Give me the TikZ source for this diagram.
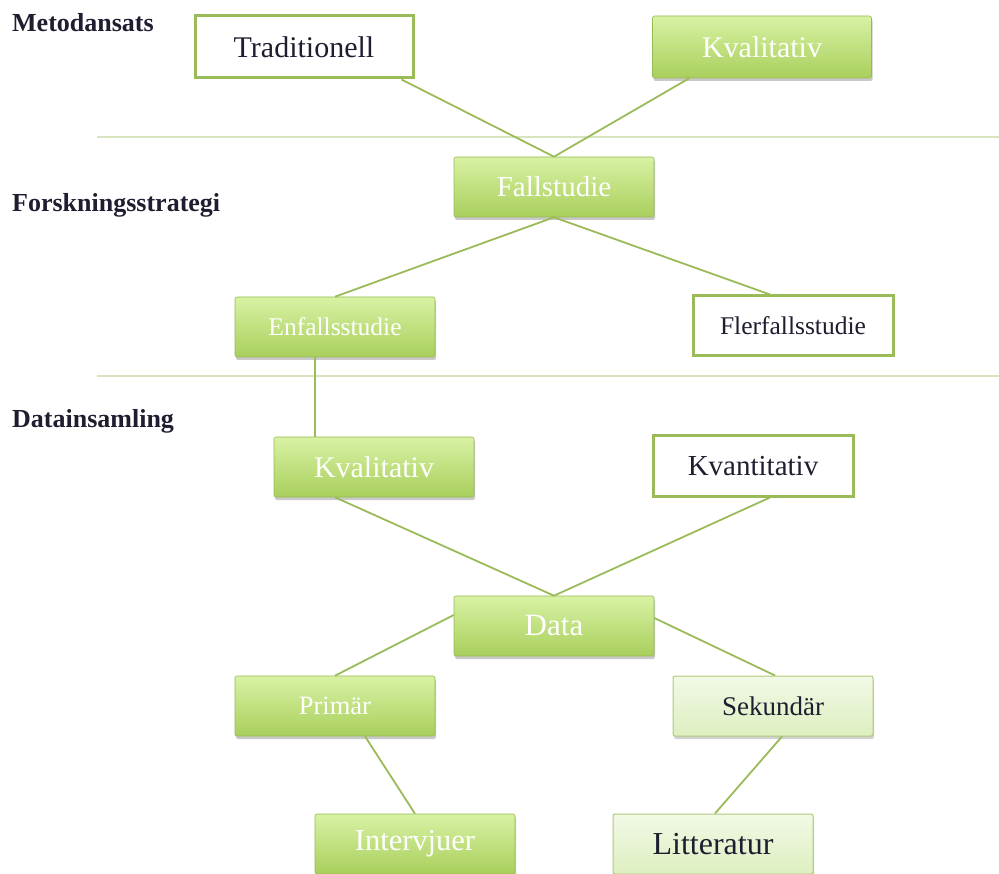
\documentclass[tikz,border=0pt]{standalone}
\usepackage{fontspec}
\setmainfont{Liberation Serif}
\usetikzlibrary{shadows}

\definecolor{olive}{HTML}{9BBB59}
\definecolor{rulegreen}{HTML}{D7E4BD}
\definecolor{greentop}{HTML}{D8F2A4}
\definecolor{greenbot}{HTML}{A9CF5C}
\definecolor{palentop}{HTML}{F2F9E6}
\definecolor{palebot}{HTML}{DDEFC0}
\definecolor{inktext}{HTML}{1E1E30}

\tikzset{
  box/.style={minimum width=200pt, minimum height=60pt, inner sep=0pt, align=center},
  greenbox/.style={box, rounded corners=2pt, top color=greentop, bottom color=greenbot,
    draw=greenbot!90!black, line width=0.6pt, text=white,
    drop shadow={shadow xshift=1pt, shadow yshift=-3pt, opacity=0.3, fill=black!70}},
  palebox/.style={box, rounded corners=2pt, top color=palentop, bottom color=palebot,
    draw=olive!80, line width=1pt, text=inktext,
    drop shadow={shadow xshift=1pt, shadow yshift=-3pt, opacity=0.25, fill=black!70}},
  outlinebox/.style={box, fill=white, draw=olive, line width=3pt, text=inktext},
  link/.style={draw=olive, line width=1.8pt},
  divider/.style={draw=rulegreen, line width=2.5pt},
  rowlabel/.style={anchor=west, inner sep=0pt, font=\fontsize{26}{30}\selectfont\bfseries, text=inktext},
  fs/.style={font=\fontsize{#1}{#1}\selectfont}
}

\begin{document}
\begin{tikzpicture}[x=1pt, y=-1pt]
\useasboundingbox (0,0) rectangle (999,874);

% row labels
\node[rowlabel] (lmetod) at (12,23) {Metodansats};
\node[rowlabel] (lstrat) at (12,205) {Forskningsstrategi};
\node[rowlabel] (ldata) at (12,421) {Datainsamling};

% dividers between the three levels
\coordinate (d1a) at (97,137);
\coordinate (d1b) at (999,137);
\coordinate (d2a) at (97,376);
\coordinate (d2b) at (999,376);
\draw[divider] (d1a) -- (d1b);
\draw[divider] (d2a) -- (d2b);

% boxes
\node[outlinebox, fs=30, minimum width=218pt, minimum height=62pt] (trad) at (304,47) {Traditionell};
\node[greenbox, fs=30, minimum width=219pt, minimum height=62pt] (kval1) at (762,47) {Kvalitativ};
\node[greenbox, fs=29] (fall) at (554,187) {Fallstudie};
\node[greenbox, fs=25.5] (enf) at (335,327) {Enfallsstudie};
\node[outlinebox, fs=25.5] (fler) at (793,326) {Flerfallsstudie};
\node[greenbox, fs=30] (kval2) at (374,467) {Kvalitativ};
\node[outlinebox, fs=29] (kvant) at (753,466) {Kvantitativ};
\node[greenbox, fs=31] (data) at (554,626) {Data};
\node[greenbox, fs=26.5] (prim) at (335,706) {Primär};
\node[palebox, fs=27] (sek) at (773,706) {Sekundär};
\node[greenbox, fs=30.5] (intv) at (415,844) {Intervjuer};
\node[palebox, fs=32] (litt) at (713,844) {Litteratur};

% connectors
\draw[link] ([xshift=-13pt]trad.south east) -- (fall.north);
\draw[link] ([xshift=37pt]kval1.south west) -- (fall.north);
\draw[link] (fall.south) -- (enf.north);
\draw[link] (fall.south) -- ([xshift=-23pt]fler.north);
\draw[link] ([xshift=-20pt]enf.south) -- ([xshift=-59pt]kval2.north);
\draw[link] ([xshift=-39pt]kval2.south) -- (data.north);
\draw[link] ([xshift=17pt]kvant.south) -- (data.north);
\draw[link] ([yshift=11pt]data.west) -- (prim.north);
\draw[link] ([yshift=8pt]data.east) -- ([xshift=2pt]sek.north);
\draw[link] ([xshift=30pt]prim.south) -- (intv.north);
\draw[link] ([xshift=9pt]sek.south) -- ([xshift=2pt]litt.north);
\end{tikzpicture}
\end{document}
